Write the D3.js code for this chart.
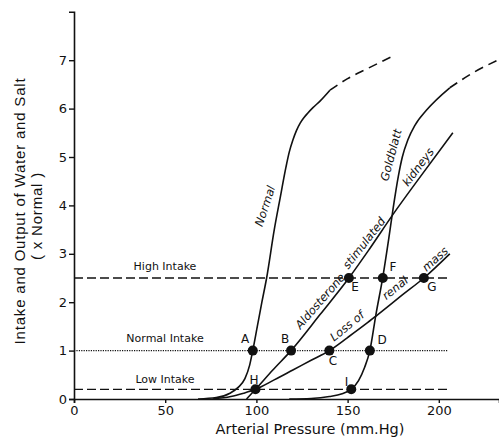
<!DOCTYPE html>
<html>
<head>
<meta charset="utf-8">
<script src="https://cdn.jsdelivr.net/npm/d3@7"></script>
<style>
  body { margin: 0; background: #fff; }
  svg text { font-family: "DejaVu Sans", sans-serif; fill: #111; }
</style>
</head>
<body>
<div id="chart"></div>
<script>
// ---- data ----
var xTicks = [0, 50, 100, 150, 200];
var yTicks = [0, 1, 2, 3, 4, 5, 6, 7];

var normalCurve = [[68,0],[78,0.03],[85.5,0.12],[90,0.24],[93.7,0.42],[96.3,0.7],[98,1],[100.5,1.5],[103,2.0],[105.6,2.5],[109.8,3.5],[113,4.15],[116.2,4.79],[118,5.1],[120,5.35],[122,5.55],[124,5.7],[126,5.81],[128,5.9],[131,6.02],[135,6.16],[140.3,6.38]];
var normalDashed = [[140.3,6.38],[150,6.62],[160.5,6.82],[174,7.07]];
var aldoCurve = [[94.6,0],[99.5,0.2],[109,0.6],[119,1],[135,1.75],[150.7,2.5],[162,3.1],[175,3.82],[190,4.6],[207.7,5.5]];
var lossCurve = [[76,0],[86,0.05],[93,0.12],[99.5,0.2],[110,0.4],[120,0.6],[130,0.8],[140,1],[150,1.27],[160,1.55],[166.4,1.74],[180,2.15],[191.8,2.5],[206,3.0]];
var goldCurve = [[118,0],[130,0.01],[140,0.05],[147,0.11],[152,0.2],[156,0.38],[159.3,0.65],[162.2,1.0],[165.5,1.74],[169.3,2.52],[172.5,3.3],[175,3.95],[177.8,4.6],[180,5.0],[183,5.35],[187,5.66],[193.3,5.97],[206,6.43]];
var goldDashed = [[206,6.43],[219.7,6.76],[232.3,7.0]];

var intakeNames = ["High Intake", "Normal Intake", "Low Intake"];
var intakeValues = [2.5, 1, 0.2];
var intakeEnd = 205;

var pointNames = ["A", "B", "C", "D", "E", "F", "G", "H", "I"];
var pointX = [98, 119, 140, 162.2, 150.7, 169.3, 191.8, 99.5, 152];
var pointY = [1, 1, 1, 1, 2.5, 2.5, 2.5, 0.2, 0.2];

// ---- chart ----
var width = 499, height = 438;
var svg = d3.select("#chart").append("svg").attr("width", width).attr("height", height);

var x = d3.scaleLinear().domain([0, 233]).range([74, 499]);
var y = d3.scaleLinear().domain([0, 8]).range([399, 11.8]);

// axes
var xAxis = svg.append("g").attr("transform", "translate(0," + y(0) + ")")
    .call(d3.axisBottom(x).tickValues(xTicks).tickSize(4).tickPadding(3));
var yAxis = svg.append("g").attr("transform", "translate(" + x(0) + ",0)")
    .call(d3.axisLeft(y).tickValues(yTicks).tickSize(5).tickPadding(2));
[xAxis, yAxis].forEach(function(a) {
    a.select(".domain").attr("stroke", "#111").attr("stroke-width", 1.6);
    a.selectAll(".tick line").attr("stroke", "#111").attr("stroke-width", 1.4);
    a.selectAll(".tick text").style("font-family", "DejaVu Sans").style("font-size", "13px").attr("fill", "#111");
});

// axis titles
svg.append("text").attr("x", 310).attr("y", 434).attr("text-anchor", "middle")
    .style("font-size", "14.5px").text("Arterial Pressure (mm.Hg)");
svg.append("text").attr("transform", "translate(25,211) rotate(-90)").attr("text-anchor", "middle")
    .style("font-family", "Liberation Sans").style("font-size", "15px").style("letter-spacing", "0.8px")
    .text("Intake and Output of Water and Salt");
svg.append("text").attr("transform", "translate(42,216) rotate(-90)").attr("text-anchor", "middle")
    .style("font-family", "Liberation Sans").style("font-size", "15px").style("letter-spacing", "0.8px")
    .text("( x Normal )");

// intake lines
var intakeStyles = ["9,4", "1.2,1.2", "9,4"];
intakeValues.forEach(function(v, i) {
    svg.append("line").attr("x1", x(0)).attr("x2", x(intakeEnd))
        .attr("y1", y(v)).attr("y2", y(v))
        .attr("stroke", "#111").attr("stroke-width", i == 1 ? 1.2 : 1.3)
        .attr("stroke-dasharray", intakeStyles[i]);
});
var intakeLabelY = [270, 342, 383];
intakeNames.forEach(function(n, i) {
    svg.append("text").attr("x", 165).attr("y", intakeLabelY[i]).attr("text-anchor", "middle")
        .style("font-size", "11px").text(n);
});

// curves
var line = d3.line().x(function(d) { return x(d[0]); }).y(function(d) { return y(d[1]); })
    .curve(d3.curveMonotoneX);
[normalCurve, aldoCurve, lossCurve, goldCurve].forEach(function(c) {
    svg.append("path").datum(c).attr("d", line).attr("fill", "none")
        .attr("stroke", "#111").attr("stroke-width", 1.6);
});
[normalDashed, goldDashed].forEach(function(c) {
    svg.append("path").datum(c).attr("d", line).attr("fill", "none")
        .attr("stroke", "#111").attr("stroke-width", 1.6).attr("stroke-dasharray", "9,6");
});

// curve labels
var curveLabels = [
    ["Normal", 265, 206, -72],
    ["Goldblatt", 391, 155, -75],
    ["kidneys", 418, 167, -53],
    ["Aldosterone", 320, 301, -49],
    ["stimulated", 364, 243, -52],
    ["Loss of", 347, 326, -39],
    ["renal", 395, 288, -39],
    ["mass", 435, 259, -42]
];
curveLabels.forEach(function(l) {
    svg.append("text").attr("transform", "translate(" + l[1] + "," + l[2] + ") rotate(" + l[3] + ")")
        .attr("text-anchor", "middle").attr("dy", "0.35em")
        .style("font-size", "11.5px").style("font-style", "italic").text(l[0]);
});

// points
pointNames.forEach(function(n, i) {
    svg.append("circle").attr("cx", x(pointX[i])).attr("cy", y(pointY[i])).attr("r", 5).attr("fill", "#111");
});
var letterPos = [[245,339],[285,339],[333,361],[382,340],[355,287],[393,267],[432,287],[254,380],[346.5,382]];
pointNames.forEach(function(n, i) {
    svg.append("text").attr("x", letterPos[i][0]).attr("y", letterPos[i][1]).attr("text-anchor", "middle")
        .attr("dy", "0.35em").attr("fill", "#111").style("font-size", "12px").text(n);
});
</script>
</body>
</html>
